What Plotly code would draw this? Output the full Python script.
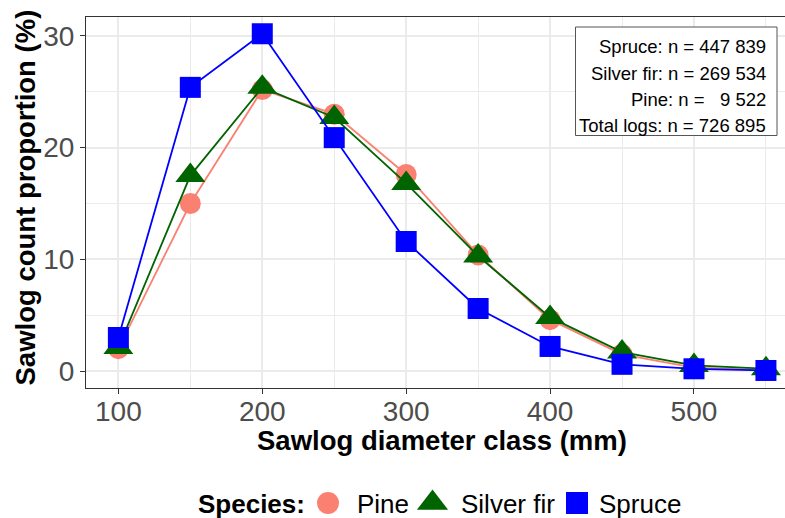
import plotly.graph_objects as go

# ---- data ----
diameter_class = [100, 150, 200, 250, 300, 350, 400, 450, 500, 550]
pine = [2.0, 15.0, 25.2, 23.0, 17.6, 10.4, 4.6, 1.5, 0.3, 0.1]
silver_fir = [2.1, 17.5, 25.4, 22.7, 16.8, 10.3, 4.8, 1.7, 0.5, 0.2]
spruce = [3.0, 25.4, 30.2, 20.9, 11.6, 5.6, 2.2, 0.6, 0.2, 0.05]
species = ["Pine", "Silver fir", "Spruce"]
count_labels = ["Spruce", "Silver fir", "Pine", "Total logs"]
count_values = ["447 839", "269 534", "\u00a0\u00a09 522", "726 895"]
x_ticks = [100, 200, 300, 400, 500]
y_ticks = [0, 10, 20, 30]

colors = {"Pine": "#FA8072", "Silver fir": "#006400", "Spruce": "#0000FF"}
symbols = {"Pine": "circle", "Silver fir": "triangle-up", "Spruce": "square"}
sizes = {"Pine": 21, "Silver fir": 26, "Spruce": 21}
legend_sizes = {"Pine": 22, "Silver fir": 27, "Spruce": 22}
series = {"Pine": pine, "Silver fir": silver_fir, "Spruce": spruce}

FONT = "Liberation Sans, Arial, sans-serif"
W, H = 785, 518
# panel in pixels
P_L, P_R, P_T, P_B = 86, 785, 17, 388
LEG_TOP = 470  # top of legend strip in pixels


def px(xp):
    return xp / W


def py(yp):
    return 1 - yp / H


fig = go.Figure()
for sp in species:
    fig.add_trace(go.Scatter(
        x=diameter_class, y=series[sp], mode="lines+markers", name=sp,
        line=dict(color=colors[sp], width=1.8),
        marker=dict(symbol=symbols[sp], size=sizes[sp], color=colors[sp], line=dict(width=0)),
        showlegend=False, xaxis="x", yaxis="y",
    ))

# ---- manual legend (strip axes in pixel units) ----
legend_y = 504
key_x = {"Pine": 328, "Silver fir": 432.5, "Spruce": 577}
text_x = {"Pine": 355, "Silver fir": 459, "Spruce": 597}
for sp in species:
    fig.add_trace(go.Scatter(
        x=[key_x[sp]], y=[legend_y - 1], mode="markers", name=sp,
        marker=dict(symbol=symbols[sp], size=legend_sizes[sp], color=colors[sp], line=dict(width=0)),
        showlegend=False, xaxis="x2", yaxis="y2", hoverinfo="skip", cliponaxis=False,
    ))
    fig.add_annotation(text=sp, xref="paper", yref="paper", x=px(text_x[sp]), y=py(legend_y),
                       xanchor="left", yanchor="middle", showarrow=False,
                       font=dict(size=26, color="#000000"))
fig.add_annotation(text="<b>Species:</b>", xref="paper", yref="paper", x=px(196), y=py(legend_y),
                   xanchor="left", yanchor="middle", showarrow=False,
                   font=dict(size=26, color="#000000"))

fig.update_layout(
    width=W, height=H,
    margin=dict(l=0, r=0, t=0, b=0, pad=0, autoexpand=False),
    plot_bgcolor="rgba(0,0,0,0)", paper_bgcolor="white",
    font=dict(family=FONT, color="#000000"),
    showlegend=False,
    xaxis2=dict(domain=[0, 1], range=[0, W], visible=False, fixedrange=True, anchor="y2"),
    yaxis2=dict(domain=[0, (H - LEG_TOP) / H], range=[H, LEG_TOP], visible=False,
                fixedrange=True, anchor="x2"),
)

fig.layout.xaxis.update(
    domain=[P_L / W, P_R / W],
    range=[77.5, 77.5 + (P_R - P_L) / 1.439],
    tickvals=x_ticks, ticktext=[str(v) for v in x_ticks],
    tickfont=dict(size=28, color="#4D4D4D", family=FONT),
    ticks="outside", ticklen=5, tickcolor="#333333", tickwidth=1,
    ticklabelstandoff=-7,
    showline=True, linecolor="#333333", linewidth=1, mirror=True,
    showgrid=True, gridcolor="#EBEBEB", gridwidth=1.5,
    minor=dict(tickvals=[150, 250, 350, 450, 550], showgrid=True, gridcolor="#EBEBEB", gridwidth=1, ticks=""),
    zeroline=False, automargin=False, anchor="y",
)
fig.layout.yaxis.update(
    domain=[1 - P_B / H, 1 - P_T / H],
    range=[-1.52, 31.7],
    tickvals=y_ticks, ticktext=[str(v) for v in y_ticks],
    tickfont=dict(size=28, color="#4D4D4D", family=FONT),
    ticks="outside", ticklen=5, tickcolor="#333333", tickwidth=1,
    showline=True, linecolor="#333333", linewidth=1, mirror=False,
    showgrid=True, gridcolor="#EBEBEB", gridwidth=1.5,
    minor=dict(tickvals=[5, 15, 25], showgrid=True, gridcolor="#EBEBEB", gridwidth=1, ticks=""),
    zeroline=False, automargin=False, anchor="x",
)

# axis titles
fig.add_annotation(text="<b>Sawlog diameter class (mm)</b>", xref="paper", yref="paper",
                   x=px(441.5), y=py(440), xanchor="center", yanchor="middle",
                   showarrow=False, font=dict(size=27.5, color="#000000"))
fig.add_annotation(text="<b>Sawlog count proportion (%)</b>", xref="paper", yref="paper",
                   x=px(25), y=py(197.5), xanchor="center", yanchor="middle", textangle=-90,
                   showarrow=False, font=dict(size=27.5, color="#000000"))

# count box
fig.add_shape(type="rect", xref="paper", yref="paper",
              x0=px(575.5), x1=px(777), y0=py(135.5), y1=py(27),
              line=dict(color="#555555", width=1), fillcolor="white", layer="above")
line_y = [46.5, 73, 99.5, 126]
for lab, val, yy in zip(count_labels, count_values, line_y):
    fig.add_annotation(text=f"{lab}: n = {val}", xref="paper", yref="paper",
                       x=px(768), y=py(yy), xanchor="right", yanchor="middle",
                       showarrow=False, font=dict(size=18.5, color="#000000"))

fig.write_html("out.html")
